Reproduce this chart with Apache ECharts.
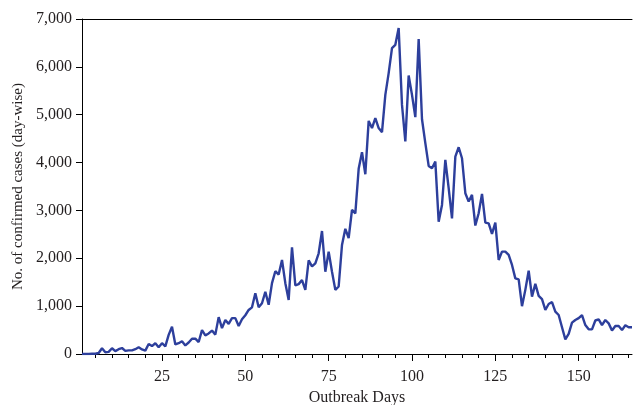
<!DOCTYPE html>
<html>
<head>
<meta charset="utf-8">
<script src="https://cdn.jsdelivr.net/npm/echarts@6/dist/echarts.min.js"></script>
<style>html,body{margin:0;padding:0;background:#fff}#c{width:633px;height:405px}</style>
</head>
<body>
<div id="c"></div>
<script>
var days = [];
for (var d = 1; d <= 166; d++) days.push(d);
var cases = [
  0, 0, 0, 5, 5, 20, 120, 35, 45, 120,
  60, 100, 125, 65, 75, 75, 100, 140, 95, 70,
  210, 165, 225, 140, 225, 160, 400, 570, 200, 225,
  265, 180, 240, 320, 320, 250, 500, 390, 430, 490,
  405, 770, 540, 710, 630, 750, 750, 585, 725, 810,
  920, 975, 1270, 975, 1060, 1300, 1030, 1480, 1730, 1660,
  1965, 1480, 1130, 2230, 1435, 1460, 1545, 1340, 1955, 1830,
  1895, 2105, 2570, 1720, 2140, 1720, 1340, 1410, 2280, 2615,
  2420, 3010, 2940, 3870, 4215, 3755, 4870, 4720, 4930, 4720,
  4635, 5415, 5870, 6390, 6460, 6810, 5205, 4440, 5820, 5415,
  4950, 6580, 4905, 4405, 3930, 3880, 4020, 2765, 3115, 4055,
  3465, 2835, 4125, 4320, 4090, 3360, 3185, 3325, 2685, 2940,
  3345, 2745, 2730, 2510, 2745, 1965, 2140, 2140, 2070, 1860,
  1580, 1560, 1000, 1340, 1740, 1200, 1465, 1215, 1145, 920,
  1045, 1085, 885, 815, 560, 305, 420, 655, 710, 750,
  810, 605, 515, 515, 700, 725, 605, 710, 640, 490,
  585, 585, 500, 600, 560, 560
];
var xMajorTicks = [25, 50, 75, 100, 125, 150];
var xMinorTicks = [5, 10, 15, 20, 30, 35, 40, 45, 55, 60, 65, 70, 80, 85, 90, 95, 105, 110, 115, 120, 130, 135, 140, 145, 155, 160, 165];
var yTicks = [0, 1000, 2000, 3000, 4000, 5000, 6000, 7000];
var xTitle = 'Outbreak Days';
var yTitle = 'No. of confirmed cases (day-wise)';

var font = '"Liberation Serif", "Times New Roman", serif';
var txt = '#231f20';
var chart = echarts.init(document.getElementById('c'));
var pairs = days.map(function (d, i) { return [d, cases[i]]; });
chart.setOption({
  animation: false,
  grid: { left: 82, right: 1, top: 19, bottom: 51, containLabel: false, outerBoundsMode: 'none' },
  xAxis: [
    {
      type: 'value', min: 1, max: 166, position: 'bottom',
      name: xTitle, nameLocation: 'middle', nameGap: 36,
      nameTextStyle: { fontFamily: font, fontSize: 16, color: txt },
      axisLine: { show: true, onZero: false, lineStyle: { color: '#000', width: 1 } },
      axisTick: { show: true, customValues: xMajorTicks, length: 7, lineStyle: { color: '#000' } },
      axisLabel: { customValues: xMajorTicks, margin: 15, fontFamily: font, fontSize: 16, color: txt },
      splitLine: { show: false }
    },
    {
      type: 'value', min: 1, max: 166, position: 'bottom',
      axisLine: { show: false, onZero: false },
      axisTick: { show: true, customValues: xMinorTicks, length: 4, lineStyle: { color: '#000' } },
      axisLabel: { show: false },
      splitLine: { show: false }
    },
    {
      type: 'value', min: 1, max: 166, position: 'top',
      axisLine: { show: true, onZero: false, lineStyle: { color: '#000', width: 1 } },
      axisTick: { show: false },
      axisLabel: { show: false },
      splitLine: { show: false }
    }
  ],
  yAxis: {
    type: 'value', min: 0, max: 7000, interval: 1000,
    name: yTitle, nameLocation: 'middle', nameGap: 55, nameRotate: 90,
    nameTextStyle: { fontFamily: font, fontSize: 15, color: txt },
    axisLine: { show: true, onZero: false, lineStyle: { color: '#000', width: 1 } },
    axisTick: { show: true, customValues: yTicks, length: 6, lineStyle: { color: '#000' } },
    axisLabel: {
      customValues: yTicks, margin: 10, fontFamily: font, fontSize: 16, color: txt,
      formatter: function (v) { return v.toLocaleString('en-US'); }
    },
    splitLine: { show: false }
  },
  series: [{
    type: 'line', xAxisIndex: 0, data: pairs, showSymbol: false,
    lineStyle: { color: '#2d3f9c', width: 2.4 },
    itemStyle: { color: '#2d3f9c' }
  }]
});
</script>
</body>
</html>
